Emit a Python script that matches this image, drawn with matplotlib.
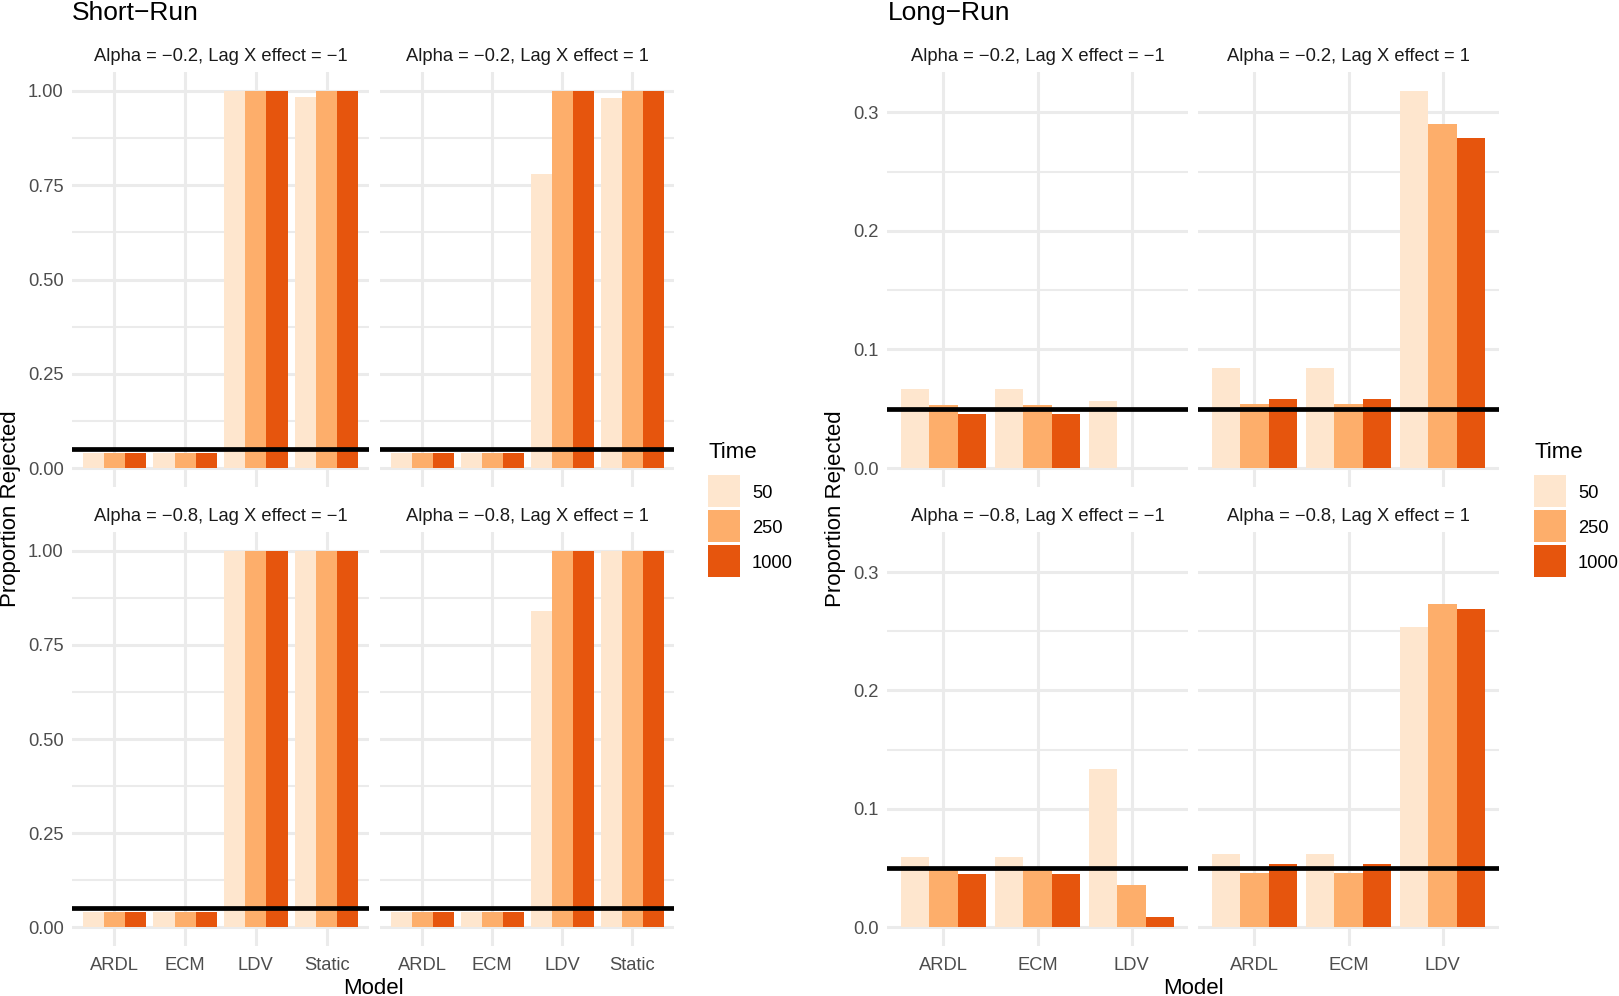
import numpy as np
import matplotlib
matplotlib.use("Agg")
import matplotlib.pyplot as plt
from matplotlib.patches import Rectangle
from matplotlib.ticker import FixedLocator

plt.rcParams['font.family'] = ['Liberation Sans', 'DejaVu Sans']

W, H = 1619, 996

# Datos
tiempos = ["50", "250", "1000"]
colores = ["#FEE6CE", "#FDAE6B", "#E6550D"]

paneles = ["Alpha = \u22120.2, Lag X effect = \u22121",
           "Alpha = \u22120.2, Lag X effect = 1",
           "Alpha = \u22120.8, Lag X effect = \u22121",
           "Alpha = \u22120.8, Lag X effect = 1"]

# Short-Run
sr_modelos = ["ARDL", "ECM", "LDV", "Static"]
sr_50 = [[0.040, 0.040, 1.00, 0.985],
         [0.040, 0.040, 0.78, 0.98],
         [0.040, 0.040, 1.00, 1.00],
         [0.040, 0.040, 0.84, 1.00]]
sr_250 = [[0.040, 0.040, 1.00, 1.00],
          [0.040, 0.040, 1.00, 1.00],
          [0.040, 0.040, 1.00, 1.00],
          [0.040, 0.040, 1.00, 1.00]]
sr_1000 = [[0.040, 0.040, 1.00, 1.00],
           [0.040, 0.040, 1.00, 1.00],
           [0.040, 0.040, 1.00, 1.00],
           [0.040, 0.040, 1.00, 1.00]]
sr_yticks = [0.0, 0.25, 0.5, 0.75, 1.0]
sr_ylabels = ["0.00", "0.25", "0.50", "0.75", "1.00"]

# Long-Run
lr_modelos = ["ARDL", "ECM", "LDV"]
lr_50 = [[0.067, 0.067, 0.057],
         [0.084, 0.084, 0.318],
         [0.059, 0.059, 0.134],
         [0.062, 0.062, 0.254]]
lr_250 = [[0.053, 0.053, 0.0],
          [0.054, 0.054, 0.290],
          [0.049, 0.049, 0.036],
          [0.046, 0.046, 0.273]]
lr_1000 = [[0.046, 0.046, 0.0],
           [0.058, 0.058, 0.278],
           [0.045, 0.045, 0.009],
           [0.053, 0.053, 0.269]]
lr_yticks = [0.0, 0.1, 0.2, 0.3]
lr_ylabels = ["0.0", "0.1", "0.2", "0.3"]

umbral = 0.05

fig = plt.figure(figsize=(W / 100, H / 100), dpi=100)


def px_ax(x0, y0, x1, y1):
    return fig.add_axes([x0 / W, 1 - y1 / H, (x1 - x0) / W, (y1 - y0) / H])


def faceta(ax, modelos, v50, v250, v1000, ylim, yticks, ylabels, minors,
           titulo, show_x, show_y):
    x = np.arange(len(modelos))
    for k, vals in enumerate([v50, v250, v1000]):
        ax.bar(x + (k - 1) * 0.3, vals, width=0.3, color=colores[k],
               linewidth=0, zorder=2)
    ax.axhline(umbral, color='black', lw=3.4, zorder=3)
    ax.set_xlim(-0.6, len(modelos) - 0.4)
    ax.set_ylim(*ylim)
    ax.set_xticks(x)
    ax.set_yticks(yticks)
    ax.yaxis.set_minor_locator(FixedLocator(minors))
    ax.set_xticklabels(modelos if show_x else [])
    ax.set_yticklabels(ylabels if show_y else [])
    ax.grid(True, which='major', color='#EBEBEB', lw=2.2)
    ax.grid(True, which='minor', axis='y', color='#EBEBEB', lw=1.5)
    ax.set_axisbelow(True)
    for s in ax.spines.values():
        s.set_visible(False)
    ax.tick_params(which='both', length=0, labelsize=13.2, labelcolor='#4D4D4D')
    ax.tick_params(axis='x', pad=8)
    ax.tick_params(axis='y', pad=6)
    ax.set_title(titulo, fontsize=13.2, color='#1A1A1A', pad=8)


def leyenda(x0):
    fig.text(x0 / W, 1 - 453 / H, "Time", fontsize=16, ha='left', va='center')
    for k, (t, c) in enumerate(zip(tiempos, colores)):
        y0 = 475 + k * 35
        fig.add_artist(Rectangle((x0 / W, 1 - (y0 + 32) / H), 32 / W, 32 / H,
                                 transform=fig.transFigure, color=c, lw=0))
        fig.text((x0 + 44) / W, 1 - (y0 + 18) / H, t, fontsize=13.2,
                 ha='left', va='center')


# Short-Run
sr_cols = [(72, 369), (380, 674)]
rows = [(72, 487), (532, 946)]
for i in range(4):
    r, c = divmod(i, 2)
    ax = px_ax(sr_cols[c][0], rows[r][0], sr_cols[c][1], rows[r][1])
    faceta(ax, sr_modelos, sr_50[i], sr_250[i], sr_1000[i], (-0.05, 1.05),
           sr_yticks, sr_ylabels, [0.125, 0.375, 0.625, 0.875],
           paneles[i], r == 1, c == 0)

# Long-Run
lr_max = max(max(max(v) for v in lr_50), max(max(v) for v in lr_250),
             max(max(v) for v in lr_1000), umbral)
lr_ylim = (-0.05 * lr_max, 1.05 * lr_max)
lr_cols = [(887, 1188), (1198, 1499)]
for i in range(4):
    r, c = divmod(i, 2)
    ax = px_ax(lr_cols[c][0], rows[r][0], lr_cols[c][1], rows[r][1])
    faceta(ax, lr_modelos, lr_50[i], lr_250[i], lr_1000[i], lr_ylim,
           lr_yticks, lr_ylabels, [0.05, 0.15, 0.25],
           paneles[i], r == 1, c == 0)

# Titulos y ejes
fig.text(72 / W, 1 - 13 / H, "Short\u2212Run", fontsize=19, ha='left', va='center')
fig.text(888 / W, 1 - 13 / H, "Long\u2212Run", fontsize=19, ha='left', va='center')
fig.text(373 / W, 1 - 988 / H, "Model", fontsize=16, ha='center', va='center')
fig.text(1193 / W, 1 - 988 / H, "Model", fontsize=16, ha='center', va='center')
fig.text(11 / W, 1 - 509 / H, "Proportion Rejected", fontsize=16, rotation=90,
         ha='center', va='center')
fig.text(835 / W, 1 - 509 / H, "Proportion Rejected", fontsize=16, rotation=90,
         ha='center', va='center')

leyenda(708)
leyenda(1534)

fig.savefig("out.png", dpi=100)
